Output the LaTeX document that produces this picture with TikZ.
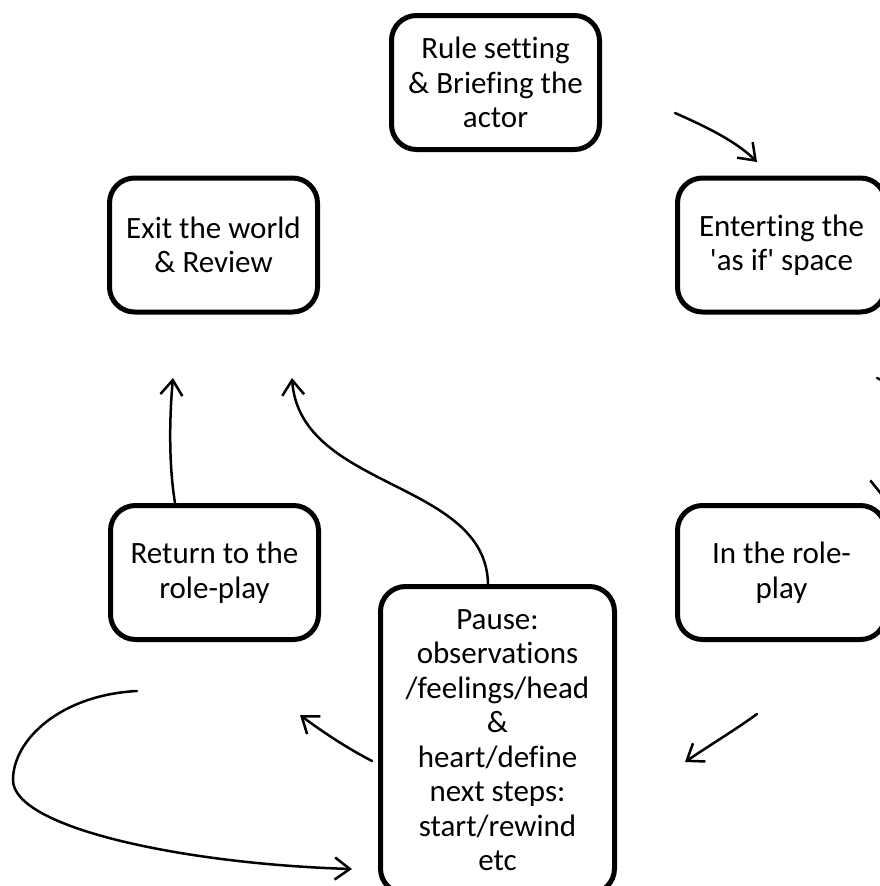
\documentclass[tikz,border=0pt]{standalone}
\usepackage{fontspec}
\newfontfamily\boxfont{Carlito}[Ligatures=NoCommon]
\usetikzlibrary{arrows.meta}
\begin{document}
\begin{tikzpicture}[x=1pt,y=-1pt,
  box/.style={draw=black, line width=5pt, rounded corners=25pt, align=center,
    minimum width=208pt, minimum height=134pt, inner sep=0pt,
    font=\boxfont\fontsize{31}{34.5}\selectfont},
  arr/.style={line width=2.5pt, line cap=round, -{Straight Barb[length=15pt,width=22pt]}}]
\useasboundingbox (0,0) rectangle (880,886);
\fill[white] (0,0) rectangle (880,886);

\node[box] (rule) at (495.5,82.5) {Rule setting\\\& Briefing the\\actor};
\node[box] (exit) at (213.5,245) {Exit the world\\\& Review};
\node[box] (enter) at (781.5,245) {Enterting the\\'as if' space};
\node[box] (ret) at (214.5,572.5) {Return to the\\role-play};
\node[box] (inrole) at (781.5,572.5) {In the role-\\play};
\node[box, minimum width=234pt, minimum height=307pt] (pause) at (497.5,740)
  {Pause:\\observations\\/feelings/head\\\&\\heart/define\\next steps:\\start/rewind\\etc};

% connector end points (the connectors do not touch the boxes)
\coordinate (a1s) at (675,113);  \coordinate (a1e) at (757,162);
\coordinate (a2s) at (877,378);  \coordinate (a2e) at (882,497);
\coordinate (a3s) at (757,714);  \coordinate (a3e) at (685,762);
\coordinate (a4s) at (372,761);  \coordinate (a4e) at (300,715);
\coordinate (a5s) at (137,691);  \coordinate (a5m) at (13,780);  \coordinate (a5e) at (352,869);
\coordinate (a6e) at (173,378);
\coordinate (a7e) at (292,378);

% rule -> enter
\draw[arr] (a1s) .. controls (700,124) and (735,140) .. (a1e);
% enter -> inrole (leaves the page on the right)
\draw[arr] (a2s) .. controls (930,400) and (880,450) .. (a2e);
% inrole -> pause
\draw[arr] (a3s) .. controls (735,730) and (710,745) .. (a3e);
% pause -> return
\draw[arr] (a4s) .. controls (345,747) and (320,730) .. (a4e);
% loop back to pause
\draw[arr] (a5s) .. controls (60,695) and (13,740) .. (a5m)
  .. controls (13,828) and (185,864) .. (a5e);
% return -> exit
\draw[arr] (ret.north -| 175,0) .. controls (168,460) and (170,410) .. (a6e);
% pause -> exit
\draw[arr] (pause.north -| 488,0) .. controls (486,480) and (300,490) .. (a7e);
\end{tikzpicture}
\end{document}
